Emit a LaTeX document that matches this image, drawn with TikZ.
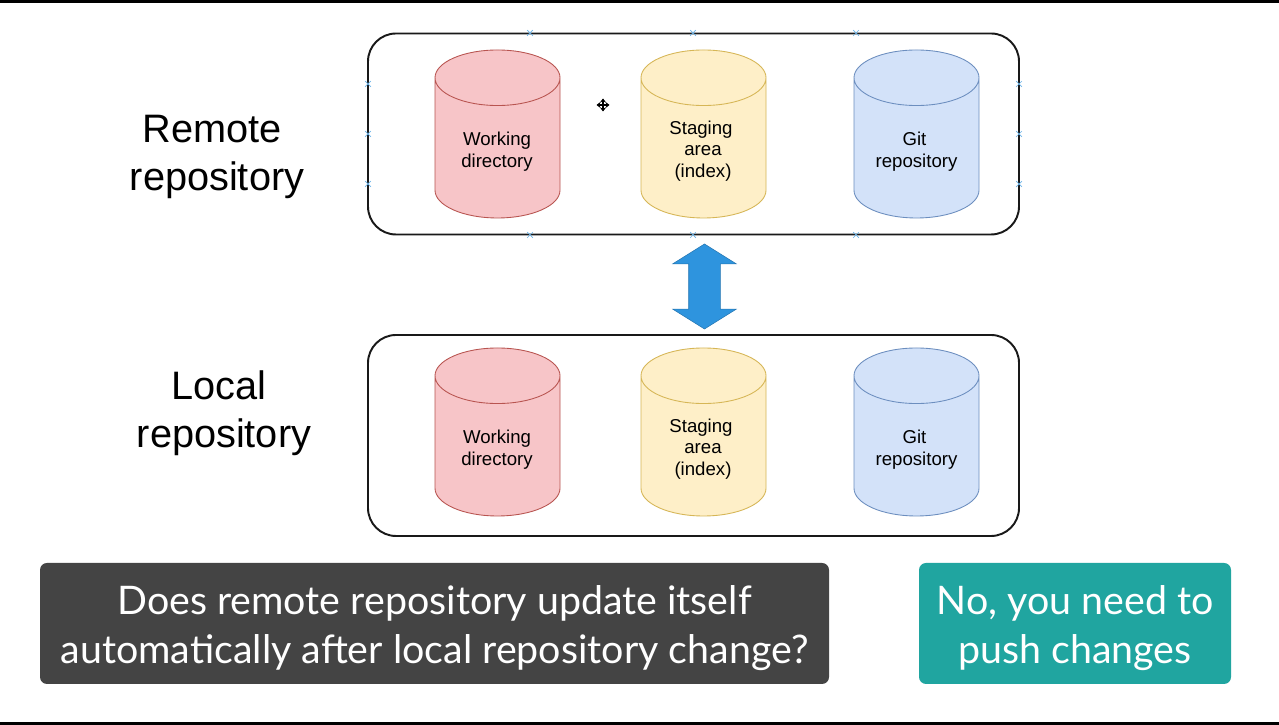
\documentclass[tikz,border=0pt]{standalone}
\usepackage{fontspec}
\setmainfont{Liberation Sans}
\newfontfamily\boxfont{Lato}
\usetikzlibrary{shapes.geometric,shapes.arrows,shapes.misc,arrows.meta}
\definecolor{redfill}{HTML}{F7C5C8}
\definecolor{redline}{HTML}{B85450}
\definecolor{yellowfill}{HTML}{FEEFC8}
\definecolor{yellowline}{HTML}{D6B656}
\definecolor{bluefill}{HTML}{D3E2F9}
\definecolor{blueline}{HTML}{6C8EBF}
\definecolor{arrowblue}{HTML}{2E94DE}
\definecolor{darkbox}{HTML}{444444}
\definecolor{tealbox}{HTML}{20A5A0}
\newcommand{\storesize}{\phantom{\rule{20pt}{11pt}}}
\tikzset{
  store/.style={cylinder,shape border rotate=90,aspect=0.79,draw,line width=0.25pt,
    anchor=shape center,minimum width=1.25cm,minimum height=1.68cm,inner sep=0pt},
  storetext/.style={align=center,font=\fontsize{5.3}{6.2}\selectfont},
  repo/.style={draw=black!90,line width=0.55pt,rounded corners=0.28cm,
    minimum width=6.51cm,minimum height=2.01cm},
  title/.style={align=center,font=\fontsize{11.3}{13.7}\selectfont},
  answer/.style={rounded corners=0.07cm,minimum height=1.21cm},
  answertext/.style={text=white,align=center,font=\boxfont\fontsize{11.2}{13.9}\selectfont},
  handle/.style={cross out,draw=arrowblue!70,line width=0.2pt,inner sep=0pt,
    minimum size=0.05cm}
}
\begin{document}
\begin{tikzpicture}
\useasboundingbox (0,0) rectangle (12.79,7.25);
\fill[white] (0,0) rectangle (12.79,7.25);
% black bars
\fill[black] (0,7.22) rectangle (12.79,7.25);
\fill[black] (0,0) rectangle (12.79,0.025);
% remote repository
\node[repo] (remote) at (6.935,5.91) {};
\node[title] (remotetitle) at (2.17,5.68) {Remote\hspace*{0.1cm}\\repository};
\node[store,fill=redfill,draw=redline] (remoteworking) at (4.975,5.91) {\storesize};
\node[store,fill=yellowfill,draw=yellowline] (remotestaging) at (7.035,5.91) {\storesize};
\node[store,fill=bluefill,draw=blueline] (remotegit) at (9.165,5.91) {\storesize};
\node[storetext] (remoteworkingtext) at (4.97,5.73) {Working\\directory};
\node[storetext] (remotestagingtext) at (7.03,5.74) {Staging\hspace*{0.04cm}\\area\\(index)};
\node[storetext] (remotegittext) at (9.165,5.73) {Git\hspace*{0.04cm}\\repository};
% local repository
\node[repo] (local) at (6.935,2.895) {};
\node[title] (localtitle) at (2.24,3.115) {Local\hspace*{0.1cm}\\repository};
\node[store,fill=redfill,draw=redline] (localworking) at (4.975,2.93) {\storesize};
\node[store,fill=yellowfill,draw=yellowline] (localstaging) at (7.035,2.93) {\storesize};
\node[store,fill=bluefill,draw=blueline] (localgit) at (9.165,2.93) {\storesize};
\node[storetext] (localworkingtext) at (4.97,2.75) {Working\\directory};
\node[storetext] (localstagingtext) at (7.03,2.76) {Staging\hspace*{0.04cm}\\area\\(index)};
\node[storetext] (localgittext) at (9.165,2.75) {Git\hspace*{0.04cm}\\repository};
% arrow between the two
\node[double arrow,rotate=90,fill=arrowblue,draw=arrowblue!80!black,line width=0.15pt,
  inner xsep=0pt,inner ysep=0.155cm,minimum height=0.85cm,minimum width=0.63cm,
  double arrow head extend=0.16cm,double arrow tip angle=116] (sync) at (7.045,4.385) {};
% selection marks
\foreach \x [count=\i] in {5.30,6.93,8.56} {
  \node[handle] (top\i) at (\x,6.92) {};
  \node[handle] (bottom\i) at (\x,4.90) {};
}
\foreach \y [count=\i] in {6.41,5.91,5.41} {
  \node[handle] (left\i) at (3.68,\y) {};
  \node[handle] (right\i) at (10.19,\y) {};
}
% move cursor
\coordinate (cursor) at (6.03,6.2);
\draw[{Stealth[length=0.04cm,width=0.06cm]}-{Stealth[length=0.04cm,width=0.06cm]},line width=0.45pt]
  ([yshift=-0.065cm]cursor) -- ([yshift=0.065cm]cursor);
\draw[{Stealth[length=0.04cm,width=0.06cm]}-{Stealth[length=0.04cm,width=0.06cm]},line width=0.45pt]
  ([xshift=-0.065cm]cursor) -- ([xshift=0.065cm]cursor);
% question and answer
\node[answer,fill=darkbox,minimum width=7.89cm] (question) at (4.345,1.015) {};
\node[answertext] (questiontext) at ([yshift=-0.045cm]question)
  {Does remote repository update itself\\automatically after local repository change?};
\node[answer,fill=tealbox,minimum width=3.12cm] (reply) at (10.75,1.015) {};
\node[answertext] (replytext) at ([yshift=-0.045cm]reply)
  {No, you need to\\push changes};
\end{tikzpicture}
\end{document}
